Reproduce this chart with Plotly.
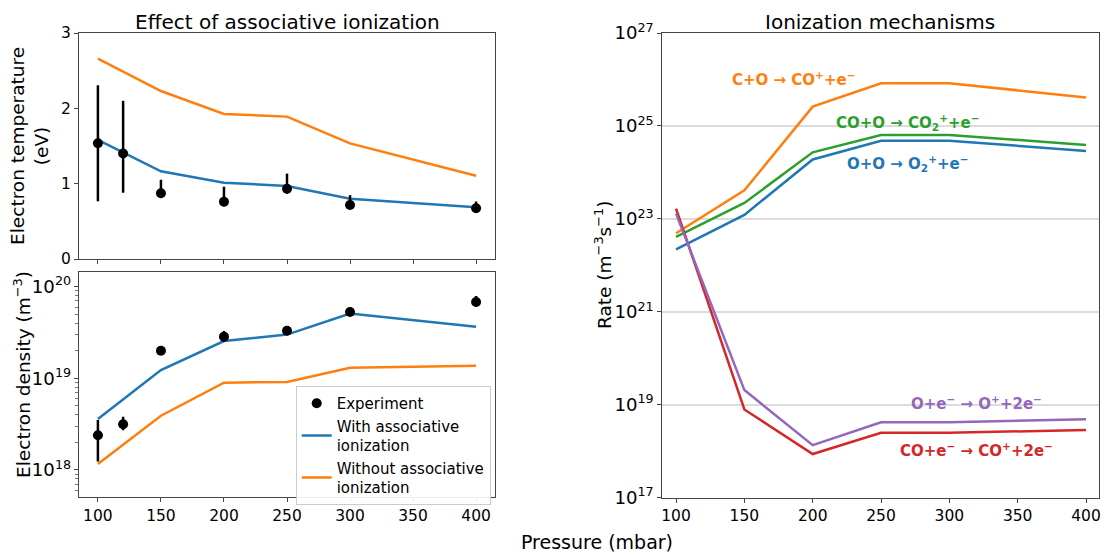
import plotly.graph_objects as go

# ---------------- data ----------------
pressure_model = [100, 150, 200, 250, 300, 400]
pressure_exp = [100, 120, 150, 200, 250, 300, 400]

te_with = [1.58, 1.164, 1.013, 0.97, 0.80, 0.686]
te_without = [2.66, 2.23, 1.925, 1.89, 1.535, 1.105]
te_exp = [1.536, 1.40, 0.872, 0.76, 0.933, 0.717, 0.673]
te_err_plus = [0.77, 0.70, 0.18, 0.20, 0.20, 0.13, 0.09]
te_err_minus = [0.77, 0.52, 0.06, 0.06, 0.07, 0.04, 0.05]

ne_with = [3.6e18, 1.23e19, 2.55e19, 3.0e19, 5.1e19, 3.65e19]
ne_without = [1.16e18, 3.9e18, 8.96e18, 9.1e18, 1.3e19, 1.37e19]
ne_exp = [2.39e18, 3.15e18, 2.0e19, 2.85e19, 3.3e19, 5.3e19, 6.8e19]
ne_err_plus = [1.12e18, 0.65e18, 0.1e19, 0.43e19, 0.2e19, 0.3e19, 1.1e19]
ne_err_minus = [1.16e18, 0.45e18, 0.1e19, 0.36e19, 0.2e19, 0.3e19, 0.8e19]

rate_C_O = [4.9e22, 4.1e23, 2.6e25, 8.3e25, 8.3e25, 4.1e25]
rate_CO_O = [4.1e22, 2.2e23, 2.7e24, 6.4e24, 6.4e24, 3.9e24]
rate_O_O = [2.2e22, 1.22e23, 1.9e24, 4.8e24, 4.8e24, 2.9e24]
rate_CO_e = [1.66e23, 7.9e18, 8.7e17, 2.5e18, 2.5e18, 2.86e18]
rate_O_e = [1.3e23, 2.07e19, 1.35e18, 4.2e18, 4.2e18, 4.85e18]

reaction_labels = [
    "<b>C+O → CO<sup>+</sup>+e<sup>−</sup></b>",
    "<b>CO+O → CO<sub>2</sub><sup>+</sup>+e<sup>−</sup></b>",
    "<b>O+O → O<sub>2</sub><sup>+</sup>+e<sup>−</sup></b>",
    "<b>O+e<sup>−</sup> → O<sup>+</sup>+2e<sup>−</sup></b>",
    "<b>CO+e<sup>−</sup> → CO<sup>+</sup>+2e<sup>−</sup></b>",
]
label_x = [185.6, 269.7, 269.7, 320, 320]
label_logy = [26.01, 25.07, 24.2, 19.04, 18.03]

BLUE = "#1f77b4"
ORANGE = "#ff7f0e"
GREEN = "#2ca02c"
RED = "#d62728"
PURPLE = "#9467bd"
LW = 2.5
FONT = "DejaVu Sans"

# page is 1112x557; the figure div sits 8px in from the page corner
W, H = 1112, 557
OFF = 8
FW, FH = W - OFF, H - OFF


def px(a):
    return (a - OFF) / FW


def py(b):
    return 1 - (b - OFF) / FH


def xd(a, b):
    return [px(a), px(b)]


def yd(top, bottom):
    return [py(bottom), py(top)]


fig = go.Figure()

# top-left: electron temperature
fig.add_trace(go.Scatter(x=pressure_model, y=te_without, mode="lines",
                         line=dict(color=ORANGE, width=LW), showlegend=False,
                         xaxis="x", yaxis="y"))
fig.add_trace(go.Scatter(x=pressure_model, y=te_with, mode="lines",
                         line=dict(color=BLUE, width=LW), showlegend=False,
                         xaxis="x", yaxis="y"))
fig.add_trace(go.Scatter(x=pressure_exp, y=te_exp, mode="markers",
                         marker=dict(color="black", size=10),
                         error_y=dict(type="data", symmetric=False, array=te_err_plus,
                                      arrayminus=te_err_minus, color="black",
                                      thickness=2.5, width=0),
                         showlegend=False, xaxis="x", yaxis="y"))

# bottom-left: electron density
fig.add_trace(go.Scatter(x=pressure_model, y=ne_with, mode="lines",
                         line=dict(color=BLUE, width=LW),
                         name="With associative<br>ionization", legendrank=2,
                         xaxis="x2", yaxis="y2"))
fig.add_trace(go.Scatter(x=pressure_model, y=ne_without, mode="lines",
                         line=dict(color=ORANGE, width=LW),
                         name="Without associative<br>ionization", legendrank=3,
                         xaxis="x2", yaxis="y2"))
fig.add_trace(go.Scatter(x=pressure_exp, y=ne_exp, mode="markers",
                         marker=dict(color="black", size=10),
                         error_y=dict(type="data", symmetric=False, array=ne_err_plus,
                                      arrayminus=ne_err_minus, color="black",
                                      thickness=2.5, width=0),
                         name="Experiment", legendrank=1,
                         xaxis="x2", yaxis="y2"))

# right: rates
for ys, col in [(rate_C_O, ORANGE), (rate_CO_O, GREEN), (rate_O_O, BLUE),
                (rate_CO_e, RED), (rate_O_e, PURPLE)]:
    fig.add_trace(go.Scatter(x=pressure_model, y=ys, mode="lines",
                             line=dict(color=col, width=LW), showlegend=False,
                             xaxis="x3", yaxis="y3"))

label_colors = [ORANGE, GREEN, BLUE, PURPLE, RED]
annotations = []
for txt, lx, ly, col in zip(reaction_labels, label_x, label_logy, label_colors):
    annotations.append(dict(text=txt, x=lx, y=ly, xref="x3", yref="y3",
                            showarrow=False, font=dict(family=FONT, size=15, color=col),
                            xanchor="center", yanchor="middle"))

# titles & axis labels
annotations += [
    dict(text="Effect of associative ionization", x=px(287), y=1.0, xref="paper",
         yref="paper", showarrow=False, font=dict(family=FONT, size=20, color="black"),
         xanchor="center", yanchor="top"),
    dict(text="Ionization mechanisms", x=px(880), y=1.0, xref="paper",
         yref="paper", showarrow=False, font=dict(family=FONT, size=20, color="black"),
         xanchor="center", yanchor="top"),
    dict(text="Electron temperature<br>(eV)", x=px(29), y=py(146), xref="paper",
         yref="paper", showarrow=False, textangle=-90,
         font=dict(family=FONT, size=18.5, color="black"), xanchor="center", yanchor="middle"),
    dict(text="Electron density (m<sup>−3</sup>)", x=px(22), y=py(375), xref="paper",
         yref="paper", showarrow=False, textangle=-90,
         font=dict(family=FONT, size=18.5, color="black"), xanchor="center", yanchor="middle"),
    dict(text="Rate (m<sup>−3</sup>s<sup>−1</sup>)", x=px(603), y=py(265), xref="paper",
         yref="paper", showarrow=False, textangle=-90,
         font=dict(family=FONT, size=18.5, color="black"), xanchor="center", yanchor="middle"),
    dict(text="Pressure (mbar)", x=px(597), y=py(542), xref="paper",
         yref="paper", showarrow=False,
         font=dict(family=FONT, size=19, color="black"), xanchor="center", yanchor="middle"),
]

axis_common = dict(showline=True, linecolor="#444", linewidth=1.2, mirror=True,
                   ticks="outside", ticklen=4, tickcolor="#444", tickwidth=1.2,
                   showgrid=False, zeroline=False, automargin=False,
                   tickfont=dict(family=FONT, size=15.5, color="black"))
log_common = {**axis_common, "tickfont": dict(family=FONT, size=14.5, color="black")}

fig.update_layout(
    width=FW, height=FH,
    margin=dict(l=0, r=0, t=0, b=0, pad=0, autoexpand=False),
    paper_bgcolor="white", plot_bgcolor="white",
    font=dict(family=FONT, color="black"),
    annotations=annotations,
    xaxis=dict(domain=xd(79, 495), range=[85, 415], tickvals=[100, 150, 200, 250, 300, 350, 400],
               showticklabels=False, anchor="y", **axis_common),
    yaxis=dict(domain=yd(33, 259), range=[0, 3], tickvals=[0, 1, 2, 3], anchor="x",
               **axis_common),
    xaxis2=dict(domain=xd(79, 495), range=[85, 415], tickvals=[100, 150, 200, 250, 300, 350, 400],
                anchor="y2", **axis_common),
    yaxis2=dict(domain=yd(271.7, 497.3), type="log", range=[17.70, 20.164], dtick=1,
                exponentformat="power", anchor="x2",
                minor=dict(ticks="outside", ticklen=2.5, tickcolor="#777", tickwidth=0.8,
                           dtick="D1", showgrid=False),
                **log_common),
    xaxis3=dict(domain=xd(661.7, 1099), range=[89.5, 409.5],
                tickvals=[100, 150, 200, 250, 300, 350, 400], anchor="y3", **axis_common),
    yaxis3=dict(domain=yd(33, 497.7), type="log", range=[17, 27], tick0=17, dtick=2,
                exponentformat="power", anchor="x3", **{**log_common, "showgrid": True},
                gridcolor="#dcdcdc", gridwidth=1.5),
    legend=dict(x=px(295.7), y=py(386), xanchor="left", yanchor="top",
                bgcolor="rgba(255,255,255,0.9)", bordercolor="#cccccc", borderwidth=1,
                font=dict(family=FONT, size=15, color="black"), tracegroupgap=2,
                itemwidth=30),
)

fig.write_html("out.html")
